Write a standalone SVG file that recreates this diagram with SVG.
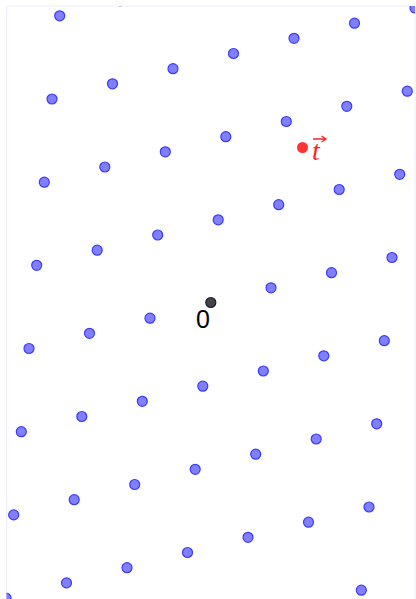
<svg xmlns="http://www.w3.org/2000/svg" width="416" height="599" viewBox="0 0 416 599">
<style>
.p{fill:#8080ff;stroke:#3a3aff;stroke-width:1.2}
</style>
<defs><clipPath id="c"><rect x="6.5" y="6" width="408.5" height="600"/></clipPath></defs>
<rect width="416" height="599" fill="#fff"/>
<rect x="6.5" y="6" width="408.5" height="600" fill="none" stroke="#ececfd" stroke-width="1"/>
<g id="lattice" clip-path="url(#c)">
<circle class="p" cx="120.2" cy="0.7" r="5"/>
<circle class="p" cx="59.7" cy="15.8" r="5"/>
<circle class="p" cx="415" cy="8" r="5"/>
<circle class="p" cx="354.5" cy="23.2" r="5"/>
<circle class="p" cx="294" cy="38.3" r="5"/>
<circle class="p" cx="233.5" cy="53.5" r="5"/>
<circle class="p" cx="173" cy="68.7" r="5"/>
<circle class="p" cx="112.5" cy="83.8" r="5"/>
<circle class="p" cx="52" cy="99" r="5"/>
<circle class="p" cx="407.3" cy="91.2" r="5"/>
<circle class="p" cx="346.8" cy="106.3" r="5"/>
<circle class="p" cx="286.3" cy="121.5" r="5"/>
<circle class="p" cx="225.8" cy="136.7" r="5"/>
<circle class="p" cx="165.3" cy="151.8" r="5"/>
<circle class="p" cx="104.8" cy="167" r="5"/>
<circle class="p" cx="44.3" cy="182.2" r="5"/>
<circle class="p" cx="399.7" cy="174.3" r="5"/>
<circle class="p" cx="339.2" cy="189.5" r="5"/>
<circle class="p" cx="278.7" cy="204.7" r="5"/>
<circle class="p" cx="218.2" cy="219.8" r="5"/>
<circle class="p" cx="157.7" cy="235" r="5"/>
<circle class="p" cx="97.2" cy="250.2" r="5"/>
<circle class="p" cx="36.7" cy="265.3" r="5"/>
<circle class="p" cx="392" cy="257.5" r="5"/>
<circle class="p" cx="331.5" cy="272.7" r="5"/>
<circle class="p" cx="271" cy="287.8" r="5"/>
<circle class="p" cx="150" cy="318.2" r="5"/>
<circle class="p" cx="89.5" cy="333.3" r="5"/>
<circle class="p" cx="29" cy="348.5" r="5"/>
<circle class="p" cx="384.3" cy="340.7" r="5"/>
<circle class="p" cx="323.8" cy="355.8" r="5"/>
<circle class="p" cx="263.3" cy="371" r="5"/>
<circle class="p" cx="202.8" cy="386.2" r="5"/>
<circle class="p" cx="142.3" cy="401.3" r="5"/>
<circle class="p" cx="81.8" cy="416.5" r="5"/>
<circle class="p" cx="21.3" cy="431.7" r="5"/>
<circle class="p" cx="376.7" cy="423.8" r="5"/>
<circle class="p" cx="316.2" cy="439" r="5"/>
<circle class="p" cx="255.7" cy="454.2" r="5"/>
<circle class="p" cx="195.2" cy="469.3" r="5"/>
<circle class="p" cx="134.7" cy="484.5" r="5"/>
<circle class="p" cx="74.2" cy="499.7" r="5"/>
<circle class="p" cx="13.7" cy="514.9" r="5"/>
<circle class="p" cx="369" cy="507" r="5"/>
<circle class="p" cx="308.5" cy="522.2" r="5"/>
<circle class="p" cx="248" cy="537.3" r="5"/>
<circle class="p" cx="187.5" cy="552.5" r="5"/>
<circle class="p" cx="127" cy="567.7" r="5"/>
<circle class="p" cx="66.5" cy="582.9" r="5"/>
<circle class="p" cx="6" cy="598" r="5"/>
<circle class="p" cx="361.3" cy="590.2" r="5"/>
</g>
<g id="origin">
<circle cx="210.8" cy="302.5" r="5" fill="#444" stroke="#1a1a40" stroke-width="1.2"/>
<text x="196" y="328" font-family="Liberation Sans, Arial, sans-serif" font-size="25" fill="#000">0</text>
</g>
<g id="target">
<circle cx="302.5" cy="147.5" r="5.5" fill="#f33"/>
<text x="312" y="160" font-family="Liberation Serif, serif" font-style="italic" font-size="28" fill="#f22">t</text>
<path d="M313 139H325M321.5 136L326 139L321.5 142" fill="none" stroke="#f22" stroke-width="1.3"/>
</g>
</svg>
